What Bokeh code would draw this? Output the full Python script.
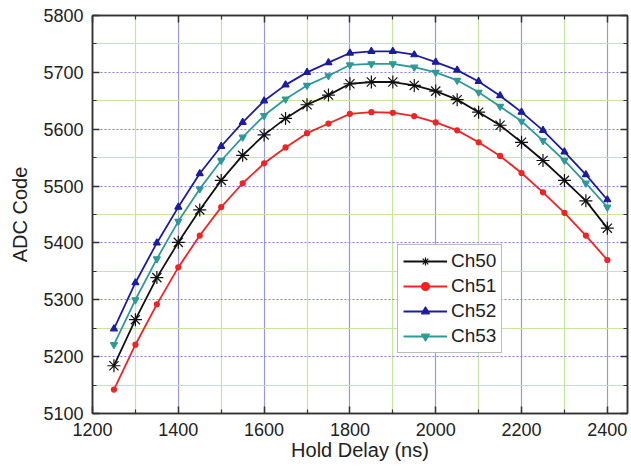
from bokeh.plotting import figure
from bokeh.models import (FixedTicker, LinearAxis, Range1d, Legend, LegendItem)
from bokeh.embed import file_html
from bokeh.resources import INLINE

hold_delay = [1250, 1300, 1350, 1400, 1450, 1500, 1550, 1600, 1650, 1700, 1750, 1800,
              1850, 1900, 1950, 2000, 2050, 2100, 2150, 2200, 2250, 2300, 2350, 2400]
ch50 = [5184, 5265, 5339, 5401, 5458, 5510, 5554, 5590, 5619, 5643, 5660, 5680,
        5683, 5683, 5677, 5667, 5652, 5630, 5607, 5577, 5545, 5510, 5474, 5426]
ch51 = [5142, 5221, 5292, 5357, 5413, 5463, 5505, 5540, 5568, 5593, 5610, 5627,
        5630, 5629, 5623, 5612, 5598, 5577, 5553, 5523, 5489, 5453, 5413, 5370]
ch52 = [5249, 5330, 5400, 5463, 5522, 5570, 5612, 5650, 5678, 5700, 5717, 5734,
        5737, 5737, 5731, 5718, 5704, 5684, 5659, 5630, 5598, 5560, 5520, 5476]
ch53 = [5221, 5300, 5372, 5438, 5495, 5545, 5586, 5624, 5653, 5677, 5694, 5713,
        5715, 5715, 5709, 5700, 5686, 5665, 5640, 5614, 5580, 5545, 5505, 5463]

x_major = [1200, 1400, 1600, 1800, 2000, 2200, 2400]
x_minor = [1300, 1500, 1700, 1900, 2100, 2300]
y_major = [5100, 5200, 5300, 5400, 5500, 5600, 5700, 5800]
y_minor = [5150, 5250, 5350, 5450, 5550, 5650, 5750]

FONT = "Liberation Sans"

p = figure(width=630, height=468, output_backend="svg", toolbar_location=None,
           x_range=Range1d(1200, 2447), y_range=Range1d(5100, 5800),
           min_border_left=92, min_border_right=3, min_border_top=15, min_border_bottom=55)

p.outline_line_color = "#333333"
p.outline_line_width = 1.5

xt = FixedTicker(ticks=x_major, minor_ticks=x_minor)
yt = FixedTicker(ticks=y_major, minor_ticks=y_minor)

for ax in p.xaxis:
    ax.ticker = xt
for ax in p.yaxis:
    ax.ticker = yt

def style_axis(ax, labels=True):
    ax.axis_line_color = "#333333"
    ax.axis_line_width = 1.5
    ax.major_tick_in = 7
    ax.major_tick_out = 0
    ax.minor_tick_in = 4
    ax.minor_tick_out = 0
    ax.major_tick_line_color = "#333333"
    ax.major_tick_line_width = 1.5
    ax.minor_tick_line_color = "#333333"
    ax.minor_tick_line_width = 1.2
    if labels:
        ax.major_label_text_font = FONT
        ax.major_label_text_font_size = "18px"
        ax.major_label_text_color = "#222222"
        ax.axis_label_text_font = FONT
        ax.axis_label_text_font_size = "20px"
        ax.axis_label_text_font_style = "normal"
        ax.axis_label_text_color = "#222222"

style_axis(p.xaxis[0])
style_axis(p.yaxis[0])
p.xaxis[0].axis_label = "Hold Delay (ns)"
p.yaxis[0].axis_label = "ADC Code"
p.xaxis[0].major_label_standoff = 9
p.xaxis[0].axis_label_standoff = 0
p.yaxis[0].major_label_standoff = 9
p.yaxis[0].axis_label_standoff = 9

top = LinearAxis(ticker=xt, major_label_text_font_size="1px", major_label_standoff=0,
                 major_label_overrides={t: "" for t in x_major})
right = LinearAxis(ticker=yt, major_label_text_font_size="1px", major_label_standoff=0,
                   major_label_overrides={t: "" for t in y_major})
style_axis(top, labels=False)
style_axis(right, labels=False)
p.add_layout(top, "above")
p.add_layout(right, "right")

# grids
p.xgrid.grid_line_color = "#9898d8"
p.xgrid.grid_line_width = 1.2
p.xgrid.minor_grid_line_color = "#c6e6a0"
p.xgrid.minor_grid_line_width = 1.2
p.ygrid.grid_line_color = "#8080e0"
p.ygrid.grid_line_width = 1.2
p.ygrid.grid_line_dash = "2 2"
p.ygrid.minor_grid_line_color = "#c6e6a0"
p.ygrid.minor_grid_line_width = 1.2

series = [
    ("Ch50", ch50, "#111111", "asterisk", 13),
    ("Ch51", ch51, "#f02424", "circle", 5),
    ("Ch52", ch52, "#1c1ca0", "triangle", 7),
    ("Ch53", ch53, "#2e9a98", "inverted_triangle", 7),
]

items = []
for name, ys, col, mk, sz in series:
    r1 = p.line(hold_delay, ys, line_color=col, line_width=1.8)
    r2 = p.scatter(hold_delay, ys, marker=mk, size=sz, line_color=col,
                   fill_color=col, line_width=1.2)
    items.append(LegendItem(label=name, renderers=[r1, r2]))

legend = Legend(items=items, location=(305, 60))
legend.label_text_font = FONT
legend.label_text_font_size = "19px"
legend.label_text_color = "#222222"
legend.border_line_color = "#777777"
legend.border_line_width = 1.5
legend.background_fill_color = "white"
legend.background_fill_alpha = 1
legend.glyph_width = 44
legend.glyph_height = 20
legend.label_height = 20
legend.spacing = 3
legend.padding = 5
legend.margin = 0
legend.label_standoff = 4
p.add_layout(legend, "center")

open("out.html", "w").write(file_html(p, INLINE))
